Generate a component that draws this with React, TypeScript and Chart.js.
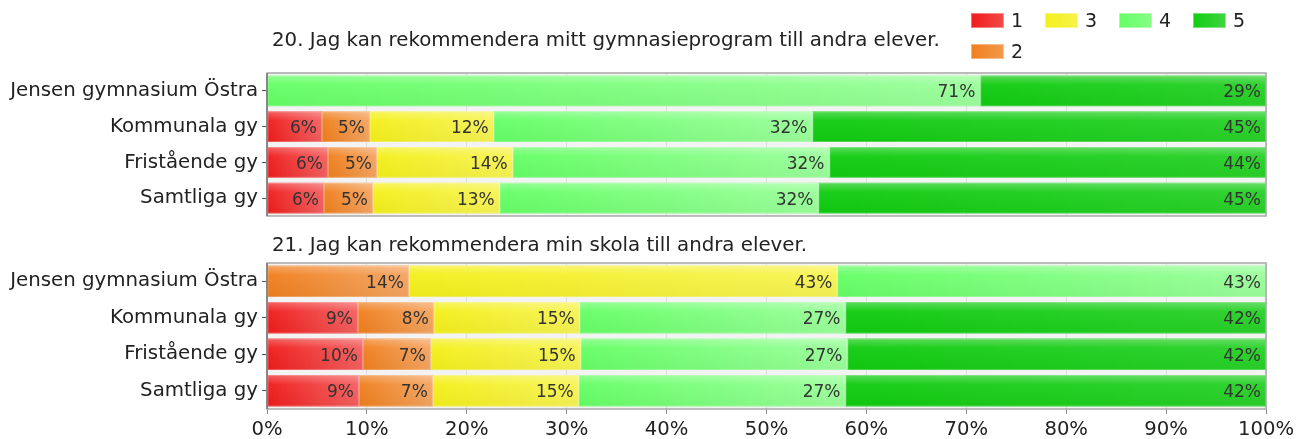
import React, { useEffect, useRef } from "react";
import { Chart, registerables } from "chart.js";
Chart.register(...registerables);

const CATEGORIES = ["Jensen gymnasium Östra", "Kommunala gy", "Fristående gy", "Samtliga gy"];
const SERIES = ["1", "2", "3", "4", "5"];
const COLORS = ["#f01c1c", "#f07f1e", "#f4f01c", "#66ff66", "#11cc11"];
const SHEEN = [0.3, 0.3, 0.25, 0.35, 0.1];
const TITLE_20 = "20. Jag kan rekommendera mitt gymnasieprogram till andra elever.";
const TITLE_21 = "21. Jag kan rekommendera min skola till andra elever.";

const Q20_1 = [0, 5.5, 6.1, 5.7];
const Q20_2 = [0, 4.8, 4.9, 4.9];
const Q20_3 = [0, 12.4, 13.6, 12.7];
const Q20_4 = [71.4, 31.9, 31.7, 31.9];
const Q20_5 = [28.6, 45.4, 43.7, 44.8];

const Q21_1 = [0, 9.1, 9.6, 9.2];
const Q21_2 = [14.2, 7.6, 6.8, 7.4];
const Q21_3 = [42.9, 14.6, 15.0, 14.6];
const Q21_4 = [42.9, 26.6, 26.7, 26.7];
const Q21_5 = [0, 42.1, 41.9, 42.1];

const FONT = '"DejaVu Sans", Verdana, sans-serif';

const decor = {
  id: "decor",
  beforeDraw(chart: any) {
    const { ctx, chartArea: a } = chart;
    ctx.save();
    ctx.fillStyle = "#f3f3f3";
    ctx.fillRect(a.left, a.top, a.right - a.left, a.bottom - a.top);
    ctx.restore();
  },
  afterDatasetsDraw(chart: any) {
    const ctx = chart.ctx;
    ctx.save();
    chart.data.datasets.forEach((ds: any, di: number) => {
      const meta = chart.getDatasetMeta(di);
      meta.data.forEach((el: any, i: number) => {
        const v = ds.data[i];
        if (!v) return;
        const p = el.getProps(["x", "y", "base", "height"], true);
        const x0 = Math.min(p.x, p.base);
        const x1 = Math.max(p.x, p.base);
        const top = p.y - p.height / 2;
        const h = p.height;
        const gh = ctx.createLinearGradient(x0, 0, x1, 0);
        gh.addColorStop(0, "rgba(255,255,255,0)");
        gh.addColorStop(1, `rgba(255,255,255,${SHEEN[di]})`);
        ctx.fillStyle = gh;
        ctx.fillRect(x0, top, x1 - x0, h);
        const gv = ctx.createLinearGradient(0, top, 0, top + h);
        gv.addColorStop(0, "rgba(255,255,255,0.3)");
        gv.addColorStop(0.3, "rgba(255,255,255,0.04)");
        gv.addColorStop(1, "rgba(0,0,0,0.03)");
        ctx.fillStyle = gv;
        ctx.fillRect(x0, top, x1 - x0, h);
        ctx.strokeStyle = "rgba(255,255,255,0.25)";
        ctx.lineWidth = 1;
        ctx.strokeRect(x0 + 0.5, top + 0.5, x1 - x0 - 1, h - 1);
        ctx.fillStyle = "#333";
        ctx.font = `17px ${FONT}`;
        ctx.textAlign = "right";
        ctx.textBaseline = "middle";
        ctx.fillText(Math.round(v) + "%", x1 - 5, p.y + 2);
      });
    });
    ctx.restore();
  },
  afterDraw(chart: any) {
    const { ctx, chartArea: a } = chart;
    ctx.save();
    ctx.strokeStyle = "#a8a8a8";
    ctx.lineWidth = 1.5;
    ctx.strokeRect(a.left, a.top, a.right - a.left, a.bottom - a.top);
    ctx.strokeStyle = "#777";
    ctx.beginPath();
    ctx.moveTo(a.left, a.top);
    ctx.lineTo(a.left, a.bottom);
    ctx.stroke();
    ctx.restore();
  },
};

function makeConfig(series: number[][], showX: boolean, padTop: number, padBottom: number, xHeight: number): any {
  return {
    type: "bar",
    data: {
      labels: CATEGORIES,
      datasets: SERIES.map((s, i) => ({
        label: s,
        data: series[i],
        backgroundColor: COLORS[i],
        borderWidth: 0,
        barPercentage: 0.86,
        categoryPercentage: 1,
      })),
    },
    options: {
      indexAxis: "y",
      responsive: false,
      animation: false,
      layout: { padding: { top: padTop, right: 30, bottom: padBottom, left: 0 } },
      scales: {
        x: {
          stacked: true,
          min: 0,
          max: 100,
          ticks: {
            display: showX,
            stepSize: 10,
            callback: (v: any) => v + "%",
            font: { family: FONT, size: 19.6 },
            color: "#222",
            padding: 4,
            maxRotation: 0,
            align: "center",
          },
          grid: { color: "#dddddd", drawTicks: showX, tickLength: 5, tickColor: "#888" },
          border: { display: false },
          afterFit: (s: any) => {
            s.height = xHeight;
            s.paddingLeft = 0;
            s.paddingRight = 0;
          },
        },
        y: {
          stacked: true,
          ticks: { font: { family: FONT, size: 19.8 }, color: "#222", padding: 4 },
          grid: { drawOnChartArea: false, offset: false, tickLength: 5, tickColor: "#555" },
          border: { display: false },
          afterFit: (s: any) => {
            s.width = 267;
            s.paddingTop = 0;
            s.paddingBottom = 0;
          },
        },
      },
      plugins: { legend: { display: false }, tooltip: { enabled: false }, title: { display: false } },
    },
    plugins: [decor],
  };
}

const LEGEND_POS = [
  { left: 971, top: 12 },
  { left: 971, top: 43 },
  { left: 1045, top: 12 },
  { left: 1119, top: 12 },
  { left: 1193, top: 12 },
];

export default function App() {
  const ref1 = useRef<HTMLCanvasElement>(null);
  const ref2 = useRef<HTMLCanvasElement>(null);
  useEffect(() => {
    const c1 = new Chart(ref1.current as any, makeConfig([Q20_1, Q20_2, Q20_3, Q20_4, Q20_5], false, 73, 4, 0));
    const c2 = new Chart(ref2.current as any, makeConfig([Q21_1, Q21_2, Q21_3, Q21_4, Q21_5], true, 43, 0, 30));
    return () => {
      c1.destroy();
      c2.destroy();
    };
  }, []);
  const titleStyle: React.CSSProperties = {
    position: "absolute",
    left: 272,
    fontFamily: FONT,
    fontSize: 19.8,
    color: "#222",
    whiteSpace: "nowrap",
    lineHeight: "22px",
  };
  return (
    <div style={{ position: "fixed", left: 0, top: 0, width: 1296, height: 439, background: "#fff", overflow: "hidden" }}>
      <canvas ref={ref1} width={1296} height={220} style={{ position: "absolute", left: 0, top: 0 }} />
      <canvas ref={ref2} width={1296} height={219} style={{ position: "absolute", left: 0, top: 220 }} />
      <div style={{ ...titleStyle, top: 29 }}>{TITLE_20}</div>
      <div style={{ ...titleStyle, top: 234 }}>{TITLE_21}</div>
      {SERIES.map((s, i) => (
        <div key={s} style={{ position: "absolute", left: LEGEND_POS[i].left, top: LEGEND_POS[i].top, display: "flex", alignItems: "center", fontFamily: FONT, fontSize: 19, color: "#222", lineHeight: "16px" }}>
          <div
            style={{
              width: 33,
              height: 15,
              background: `linear-gradient(to right, ${COLORS[i]}, ${COLORS[i]}cc)`,
              boxShadow: "inset 0 0 0 1px rgba(255,255,255,0.4)",
              marginRight: 7,
            }}
          />
          <span>{s}</span>
        </div>
      ))}
    </div>
  );
}
